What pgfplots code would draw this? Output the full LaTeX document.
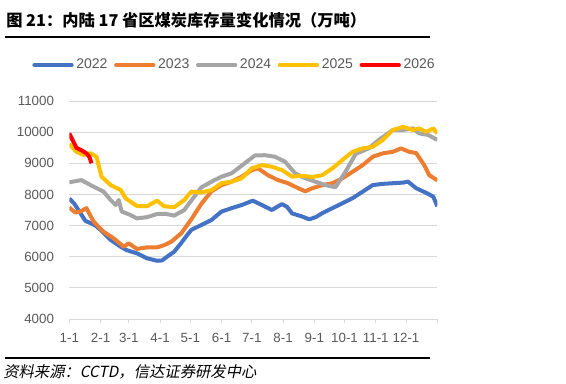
\documentclass[border=0pt]{standalone}
\usepackage{pgfplots}
\pgfplotsset{compat=1.18}
\usepackage{fontspec}
\setmainfont{Liberation Sans}
\newfontfamily\cjk{Noto Sans CJK SC}
\newfontfamily\cjki{Noto Sans CJK SC}[FakeSlant=0.2]
\definecolor{c22}{HTML}{4472C4}
\definecolor{c23}{HTML}{ED7D31}
\definecolor{c24}{HTML}{A5A5A5}
\definecolor{c25}{HTML}{FFC000}
\definecolor{c26}{HTML}{FF0000}
\definecolor{tk}{HTML}{595959}
\definecolor{gr}{HTML}{D9D9D9}
\begin{document}
\begin{tikzpicture}[x=0.75pt,y=0.75pt]
\path[use as bounding box] (0,0) rectangle (566,383);
\node[anchor=west, inner sep=0] at (6,363) {\cjk\bfseries\fontsize{12.2pt}{14pt}\selectfont 图 21：内陆 17 省区煤炭库存量变化情况（万吨）};
\draw[line width=1.5pt] (5,346) -- (430,346);
\draw[line width=1.5pt] (5,25) -- (430,25);
\node[anchor=west, inner sep=0] at (3,11.5) {\cjki\fontsize{11.5pt}{13pt}\selectfont 资料来源：CCTD，信达证券研发中心};
\begin{axis}[
  at={(51.975pt,48pt)}, anchor=south west,
  width=276pt, height=163.5pt, scale only axis,
  xmin=0, xmax=365, ymin=4000, ymax=11000,
  axis lines=left, axis line style={-, draw=gr, line width=0.75pt},
  y axis line style={draw=none},
  xtick={0,31,59,90,120,151,181,212,243,273,304,334,365},
  xticklabels={1-1,2-1,3-1,4-1,5-1,6-1,7-1,8-1,9-1,10-1,11-1,12-1,{}},
  ytick={4000,5000,6000,7000,8000,9000,10000,11000},
  scaled y ticks=false,
  ymajorgrids, grid style={draw=gr, line width=0.75pt},
  tick align=outside, major tick length=3pt,
  xtick style={draw=gr, line width=0.75pt},
  ytick style={draw=none},
  tick label style={font=\fontsize{10pt}{12pt}\selectfont, text=tk},
  xticklabel style={yshift=-4pt},
  yticklabel style={xshift=-5pt},
  /pgf/number format/assume math mode=true,
  /pgf/number format/1000 sep={},
  legend columns=5,
  legend style={at={(0.45,1.165)}, anchor=center, draw=none, fill=none,
    font=\fontsize{10.5pt}{12pt}\selectfont, text=tk,
    /tikz/every even column/.append style={column sep=3pt}},
  legend image code/.code={\draw[#1, line width=3pt, line cap=round] (0pt,0pt) -- (28pt,0pt);},
  every axis plot/.append style={line width=3pt, line join=round, mark=none},
]
\addplot[c22] coordinates {
(0,7870)(5,7700)(11,7400)(16,7150)(21,7080)(26,7000)(31,6860)(41,6540)(51,6320)(57,6210)
(67,6110)(77,5950)(87,5870)(92,5880)(97,6000)(104,6160)(111,6440)(117,6700)(121,6860)
(131,7020)(141,7180)(151,7450)(161,7560)(171,7660)(182,7800)(191,7660)(201,7500)(206,7600)
(211,7690)(216,7600)(221,7390)(231,7290)(238,7200)(245,7280)(251,7400)(261,7560)(271,7720)
(281,7880)(291,8090)(301,8300)(311,8340)(321,8360)(331,8380)(336,8410)(344,8200)(354,8050)
(361,7930)(365,7620)};
\addlegendentry{2022}
\addplot[c23] coordinates {
(0,7580)(6,7420)(11,7450)(17,7560)(24,7130)(34,6800)(44,6590)(54,6320)(59,6430)(67,6250)
(77,6300)(87,6300)(94,6370)(101,6480)(111,6750)(121,7200)(131,7700)(141,8100)(151,8300)
(161,8410)(171,8570)(181,8780)(187,8840)(197,8620)(207,8460)(217,8360)(227,8200)(234,8100)
(241,8200)(251,8300)(261,8360)(271,8520)(281,8730)(291,8940)(301,9210)(311,9320)(321,9370)
(329,9480)(337,9370)(344,9330)(352,8940)(357,8620)(365,8450)};
\addlegendentry{2023}
\addplot[c24] coordinates {
(0,8390)(12,8460)(24,8250)(34,8090)(41,7820)(46,7660)(49,7820)(52,7450)(60,7350)(67,7230)
(77,7270)(87,7370)(95,7380)(104,7320)(114,7500)(124,7930)(131,8230)(144,8460)(151,8570)
(161,8680)(174,9000)(184,9250)(194,9260)(204,9210)(214,9050)(224,8680)(234,8520)(244,8410)
(254,8300)(264,8230)(274,8730)(284,9300)(297,9480)(307,9750)(321,10070)(331,10070)
(341,10120)(347,9960)(356,9910)(365,9750)};
\addlegendentry{2024}
\addplot[c25] coordinates {
(0,9620)(7,9370)(14,9270)(21,9320)(27,9210)(32,8570)(41,8300)(51,8140)(56,7870)(67,7630)
(77,7620)(87,7800)(94,7620)(104,7590)(114,7820)(121,8090)(131,8060)(141,8140)(151,8360)
(161,8410)(171,8520)(181,8840)(191,8940)(201,8890)(211,8780)(221,8570)(231,8600)(241,8560)
(251,8620)(261,8840)(271,9110)(281,9370)(291,9480)(301,9530)(311,9750)(321,10070)
(331,10170)(341,10070)(347,10120)(354,10010)(361,10120)(365,9960)};
\addlegendentry{2025}
\addplot[c26] coordinates {
(0,9960)(4,9700)(7,9500)(12,9420)(17,9320)(20,9200)(22,9000)};
\addlegendentry{2026}
\end{axis}
\end{tikzpicture}
\end{document}
